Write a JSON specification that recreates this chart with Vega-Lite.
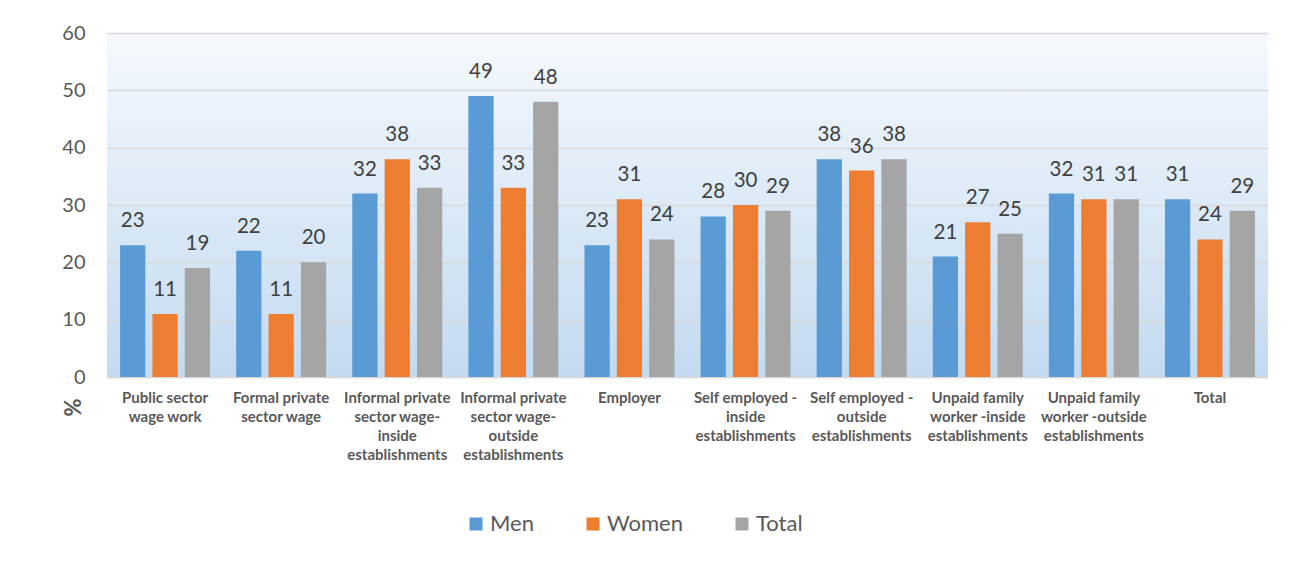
{
  "$schema": "https://vega.github.io/schema/vega-lite/v6.json",
  "autosize": "none",
  "width": 1161,
  "height": 344,
  "padding": {"left": 107, "top": 33, "right": 32, "bottom": 198},
  "background": "white",
  "config": {
    "font": "Lato",
    "view": {
      "stroke": null,
      "fill": {"gradient": "linear", "x1": 0, "y1": 0, "x2": 0, "y2": 1, "stops": [{"offset": 0, "color": "#f5f9fd"}, {"offset": 1, "color": "#c3daf0"}]}
    }
  },
  "data": {
    "values": [
      {"cat": "Public sector wage work", "series": "Men", "value": 23},
      {"cat": "Public sector wage work", "series": "Women", "value": 11},
      {"cat": "Public sector wage work", "series": "Total", "value": 19},
      {"cat": "Formal private sector wage", "series": "Men", "value": 22},
      {"cat": "Formal private sector wage", "series": "Women", "value": 11},
      {"cat": "Formal private sector wage", "series": "Total", "value": 20},
      {"cat": "Informal private sector wage-inside establishments", "series": "Men", "value": 32},
      {"cat": "Informal private sector wage-inside establishments", "series": "Women", "value": 38},
      {"cat": "Informal private sector wage-inside establishments", "series": "Total", "value": 33},
      {"cat": "Informal private sector wage-outside establishments", "series": "Men", "value": 49},
      {"cat": "Informal private sector wage-outside establishments", "series": "Women", "value": 33},
      {"cat": "Informal private sector wage-outside establishments", "series": "Total", "value": 48},
      {"cat": "Employer", "series": "Men", "value": 23},
      {"cat": "Employer", "series": "Women", "value": 31},
      {"cat": "Employer", "series": "Total", "value": 24},
      {"cat": "Self employed - inside establishments", "series": "Men", "value": 28},
      {"cat": "Self employed - inside establishments", "series": "Women", "value": 30},
      {"cat": "Self employed - inside establishments", "series": "Total", "value": 29},
      {"cat": "Self employed - outside establishments", "series": "Men", "value": 38},
      {"cat": "Self employed - outside establishments", "series": "Women", "value": 36},
      {"cat": "Self employed - outside establishments", "series": "Total", "value": 38},
      {"cat": "Unpaid family worker -inside establishments", "series": "Men", "value": 21},
      {"cat": "Unpaid family worker -inside establishments", "series": "Women", "value": 27},
      {"cat": "Unpaid family worker -inside establishments", "series": "Total", "value": 25},
      {"cat": "Unpaid family worker -outside establishments", "series": "Men", "value": 32},
      {"cat": "Unpaid family worker -outside establishments", "series": "Women", "value": 31},
      {"cat": "Unpaid family worker -outside establishments", "series": "Total", "value": 31},
      {"cat": "Total", "series": "Men", "value": 31},
      {"cat": "Total", "series": "Women", "value": 24},
      {"cat": "Total", "series": "Total", "value": 29}
    ]
  },
  "encoding": {
    "x": {
      "field": "cat",
      "type": "nominal",
      "sort": null,
      "scale": {"paddingInner": 0.225, "paddingOuter": 0.1125},
      "axis": {
        "title": null,
        "labelAngle": 0,
        "ticks": false,
        "domainColor": "#d9d9d9",
        "domainWidth": 1.5,
        "labelFontSize": 15,
        "labelFontWeight": "bold",
        "labelColor": "#595959",
        "labelPadding": 13,
        "labelBaseline": "top",
        "labelLineHeight": 19,
        "labelLimit": 200,
        "labelExpr": "({'Public sector wage work':['Public sector','wage work'],'Formal private sector wage':['Formal private','sector wage'],'Informal private sector wage-inside establishments':['Informal private','sector wage-','inside','establishments'],'Informal private sector wage-outside establishments':['Informal private','sector wage-','outside','establishments'],'Employer':['Employer'],'Self employed - inside establishments':['Self employed -','inside','establishments'],'Self employed - outside establishments':['Self employed -','outside','establishments'],'Unpaid family worker -inside establishments':['Unpaid family','worker -inside','establishments'],'Unpaid family worker -outside establishments':['Unpaid family','worker -outside','establishments'],'Total':['Total']})[datum.label]"
      }
    },
    "xOffset": {
      "field": "series",
      "type": "nominal",
      "sort": ["Men", "Women", "Total"],
      "scale": {"paddingInner": 0.22, "paddingOuter": 0}
    },
    "y": {
      "field": "value",
      "type": "quantitative",
      "scale": {"domain": [0, 60]},
      "axis": {
        "values": [0, 10, 20, 30, 40, 50, 60],
        "title": "%",
        "titleAngle": 270,
        "titleFontSize": 22,
        "titleFontWeight": "bold",
        "titleColor": "#595959",
        "titleX": -34,
        "titleY": 374,
        "titleAlign": "center",
        "titleBaseline": "middle",
        "domain": false,
        "ticks": false,
        "labelFontSize": 20,
        "labelColor": "#595959",
        "labelPadding": 22,
        "gridColor": "#d9d9d9",
        "gridWidth": 1.5
      }
    }
  },
  "layer": [
    {
      "mark": {"type": "bar"},
      "encoding": {
        "color": {
          "field": "series",
          "type": "nominal",
          "sort": ["Men", "Women", "Total"],
          "scale": {"domain": ["Men", "Women", "Total"], "range": ["#5b9bd5", "#ed7d31", "#a5a5a5"]},
          "legend": {
            "title": null,
            "orient": "none",
            "direction": "horizontal",
            "legendX": 358,
            "legendY": 480,
            "symbolType": "square",
            "symbolSize": 169,
            "symbolStrokeWidth": 0,
            "labelFontSize": 22,
            "labelColor": "#595959",
            "labelOffset": 3,
            "columnPadding": 48
          }
        }
      }
    },
    {
      "mark": {"type": "text", "baseline": "alphabetic", "dy": -18, "fontSize": 20.5, "color": "#404040"},
      "encoding": {
        "text": {"field": "value", "type": "quantitative"}
      }
    }
  ]
}
